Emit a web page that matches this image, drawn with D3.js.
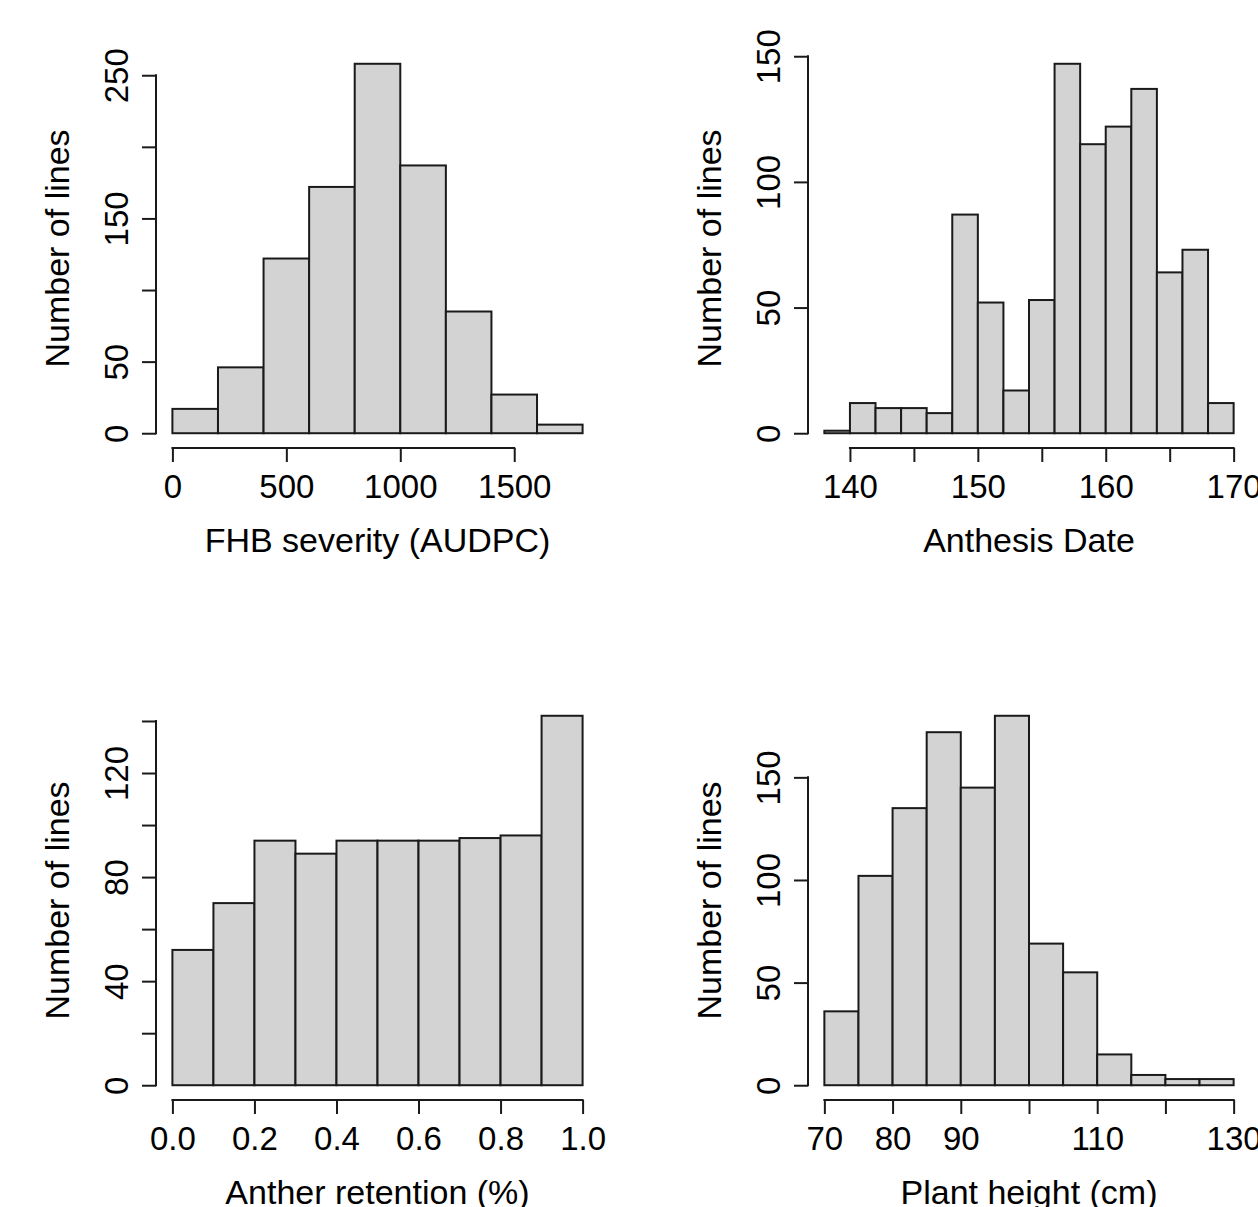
<!DOCTYPE html>
<html>
<head>
<meta charset="utf-8">
<script src="https://cdn.jsdelivr.net/npm/d3@7"></script>
<style>
  body { margin: 0; background: #fff; }
  svg { display: block; font-family: "Liberation Sans", Arial, sans-serif; }
</style>
</head>
<body>
<div id="chart"></div>
<script>
// ---- data ----
const fhbBreaks = [0, 200, 400, 600, 800, 1000, 1200, 1400, 1600, 1800];
const fhbCounts = [17, 46, 122, 172, 258, 187, 85, 27, 6];
const fhbXTicks = [0, 500, 1000, 1500];
const fhbYTicks = [0, 50, 100, 150, 200, 250];
const fhbYLabels = [0, 50, 150, 250];

const anthBreaks = [138, 140, 142, 144, 146, 148, 150, 152, 154, 156, 158, 160, 162, 164, 166, 168, 170];
const anthCounts = [1, 12, 10, 10, 8, 87, 52, 17, 53, 147, 115, 122, 137, 64, 73, 12];
const anthXTicks = [140, 145, 150, 155, 160, 165, 170];
const anthXLabels = [140, 150, 160, 170];
const anthYTicks = [0, 50, 100, 150];

const retBreaks = [0, 0.1, 0.2, 0.3, 0.4, 0.5, 0.6, 0.7, 0.8, 0.9, 1.0];
const retCounts = [52, 70, 94, 89, 94, 94, 94, 95, 96, 142];
const retXTicks = [0, 0.2, 0.4, 0.6, 0.8, 1.0];
const retYTicks = [0, 20, 40, 60, 80, 100, 120, 140];
const retYLabels = [0, 40, 80, 120];

const phBreaks = [70, 75, 80, 85, 90, 95, 100, 105, 110, 115, 120, 125, 130];
const phCounts = [36, 102, 135, 172, 145, 180, 69, 55, 15, 5, 3, 3];
const phXTicks = [70, 80, 90, 100, 110, 120, 130];
const phXLabels = [70, 80, 90, 110, 130];
const phYTicks = [0, 50, 100, 150];

const W = 1258, H = 1207;
const FS = 33;      // tick labels
const FT = 34;      // axis titles
const INK = "#1a1a1a";
const LW = 2;

const svg = d3.select("#chart").append("svg")
  .attr("width", W).attr("height", H)
  .attr("viewBox", [0, 0, W, H]);

function histPanel(o) {
  const x0 = o.box[0], x1 = o.box[1], y0 = o.box[2], y1 = o.box[3];
  const lo = o.breaks[0], hi = o.breaks[o.breaks.length - 1];
  const padX = (hi - lo) * 0.04;
  const maxC = d3.max(o.counts);
  const x = d3.scaleLinear().domain([lo - padX, hi + padX]).range([x0, x1]);
  const y = d3.scaleLinear().domain([-maxC * 0.04, maxC * 1.04]).range([y1, y0]);

  const g = svg.append("g");

  const bins = o.counts.map((c, i) => ({ a: o.breaks[i], b: o.breaks[i + 1], c }));
  g.append("g").selectAll("rect")
    .data(bins)
    .join("rect")
    .attr("x", d => x(d.a))
    .attr("width", d => x(d.b) - x(d.a))
    .attr("y", d => y(d.c))
    .attr("height", d => y(0) - y(d.c))
    .attr("fill", "#d3d3d3")
    .attr("stroke", INK)
    .attr("stroke-width", LW);

  // x axis (R style: line spans first..last tick)
  const xLab = o.xLabels || o.xTicks;
  const xa = g.append("g")
    .attr("transform", `translate(0,${y1})`)
    .call(d3.axisBottom(x).tickValues(o.xTicks).tickSizeInner(14).tickSizeOuter(0)
      .tickFormat(d => xLab.includes(d) ? o.fmt(d) : ""));
  xa.select(".domain").remove();
  xa.append("line")
    .attr("x1", x(o.xTicks[0])).attr("x2", x(o.xTicks[o.xTicks.length - 1]))
    .attr("stroke", INK).attr("stroke-width", LW).attr("stroke-linecap", "square");
  xa.selectAll(".tick line").attr("stroke", INK).attr("stroke-width", LW);
  xa.selectAll(".tick text")
    .attr("y", 50).attr("dy", null)
    .attr("fill", "#000")
    .attr("font-size", FS).attr("font-family", "Liberation Sans, Arial, sans-serif");

  // y axis with rotated labels
  const yLab = o.yLabels || o.yTicks;
  const ya = g.append("g")
    .attr("transform", `translate(${x0},0)`)
    .call(d3.axisLeft(y).tickValues(o.yTicks).tickSizeInner(14).tickSizeOuter(0)
      .tickFormat(d => yLab.includes(d) ? d : ""));
  ya.select(".domain").remove();
  ya.append("line")
    .attr("y1", y(o.yTicks[0])).attr("y2", y(o.yTicks[o.yTicks.length - 1]))
    .attr("stroke", INK).attr("stroke-width", LW).attr("stroke-linecap", "square");
  ya.selectAll(".tick line").attr("stroke", INK).attr("stroke-width", LW);
  ya.selectAll(".tick text")
    .attr("x", null).attr("dy", null)
    .attr("transform", "translate(-28,0) rotate(-90)")
    .attr("text-anchor", "middle")
    .attr("fill", "#000")
    .attr("font-size", FS).attr("font-family", "Liberation Sans, Arial, sans-serif");

  // titles
  g.append("text")
    .attr("x", (x0 + x1) / 2).attr("y", y1 + 104)
    .attr("text-anchor", "middle")
    .attr("font-size", FT).attr("fill", "#000")
    .text(o.xTitle);
  g.append("text")
    .attr("transform", `translate(${x0 - 87},${(y0 + y1) / 2}) rotate(-90)`)
    .attr("text-anchor", "middle")
    .attr("font-size", FT).attr("fill", "#000")
    .text("Number of lines");
}

const plain = d => String(d);

histPanel({ box: [156, 599, 49, 448], breaks: fhbBreaks, counts: fhbCounts,
  xTicks: fhbXTicks, yTicks: fhbYTicks, yLabels: fhbYLabels, fmt: plain,
  xTitle: "FHB severity (AUDPC)" });

histPanel({ box: [808, 1250, 49, 448], breaks: anthBreaks, counts: anthCounts,
  xTicks: anthXTicks, xLabels: anthXLabels, yTicks: anthYTicks, fmt: plain,
  xTitle: "Anthesis Date" });

histPanel({ box: [156, 599, 701, 1100], breaks: retBreaks, counts: retCounts,
  xTicks: retXTicks, yTicks: retYTicks, yLabels: retYLabels, fmt: d3.format(".1f"),
  xTitle: "Anther retention (%)" });

histPanel({ box: [808, 1250, 701, 1100], breaks: phBreaks, counts: phCounts,
  xTicks: phXTicks, xLabels: phXLabels, yTicks: phYTicks, fmt: plain,
  xTitle: "Plant height (cm)" });
</script>
</body>
</html>
